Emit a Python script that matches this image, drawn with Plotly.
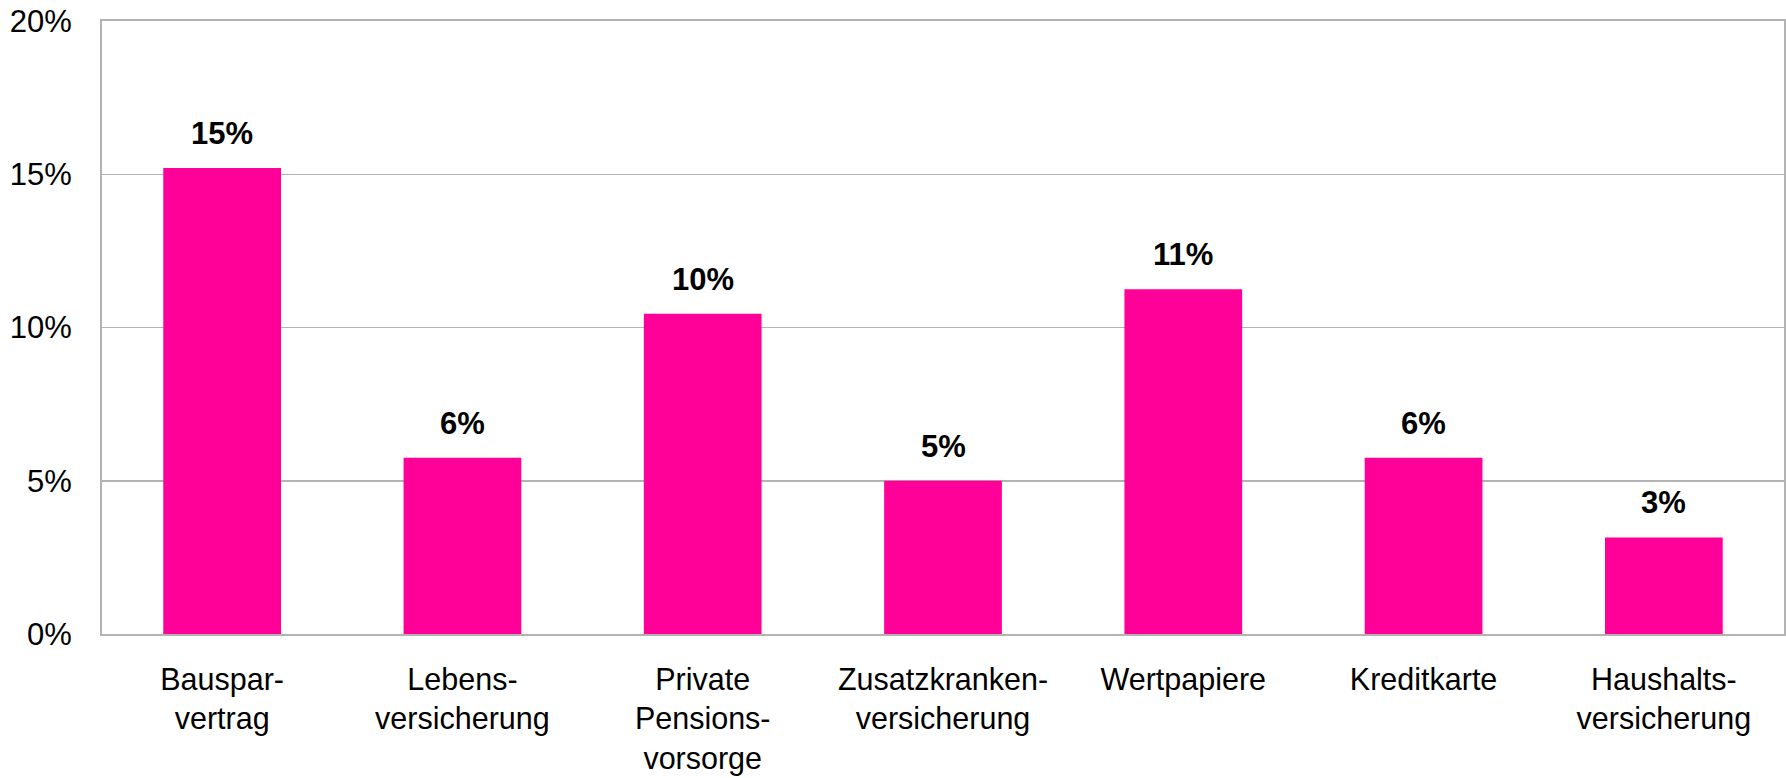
import plotly.graph_objects as go

categories = ["Bauspar-<br>vertrag", "Lebens-<br>versicherung", "Private<br>Pensions-<br>vorsorge",
              "Zusatzkranken-<br>versicherung", "Wertpapiere", "Kreditkarte", "Haushalts-<br>versicherung"]
values = [15.2, 5.75, 10.45, 5.0, 11.25, 5.75, 3.15]
y_ticks = [0, 5, 10, 15, 20]
y_ticklabels = ["0%", "5%", "10%", "15%", "20%"]

FONT = "Liberation Sans, Arial, sans-serif"
GRID = "#b3b3b3"

fig = go.Figure()
fig.add_trace(go.Bar(
    x=categories, y=values,
    marker=dict(color="#FF0099", line=dict(width=0)),
    hoverinfo="skip",
))

for c, v in zip(categories, values):
    fig.add_annotation(
        x=c, y=v, text=f"<b>{round(v):.0f}%</b>", showarrow=False,
        yanchor="bottom", yshift=15,
        font=dict(family=FONT, size=31, color="black"),
    )

fig.update_layout(
    width=1786, height=778,
    margin=dict(l=102, r=2, t=21, b=144),
    paper_bgcolor="white", plot_bgcolor="white",
    bargap=0.51,
    showlegend=False,
    font=dict(family=FONT, size=30, color="black"),
)
fig.update_xaxes(
    showline=True, linecolor=GRID, linewidth=2, mirror=True,
    showgrid=False, ticks="", ticklabelstandoff=17, automargin=False,
    tickfont=dict(family=FONT, size=30.5, color="black"),
)
fig.update_yaxes(
    range=[0, 20], tickvals=y_ticks, ticktext=y_ticklabels,
    showline=True, linecolor=GRID, linewidth=2, mirror=True,
    showgrid=True, gridcolor=GRID, gridwidth=1.5,
    ticks="", ticklabelstandoff=22, zeroline=False, automargin=False,
    tickfont=dict(family=FONT, size=31, color="black"),
)

fig.write_html("out.html",
               config={"displayModeBar": False, "staticPlot": True},
               post_script="document.body.style.margin='0px';document.body.style.overflow='hidden';")
